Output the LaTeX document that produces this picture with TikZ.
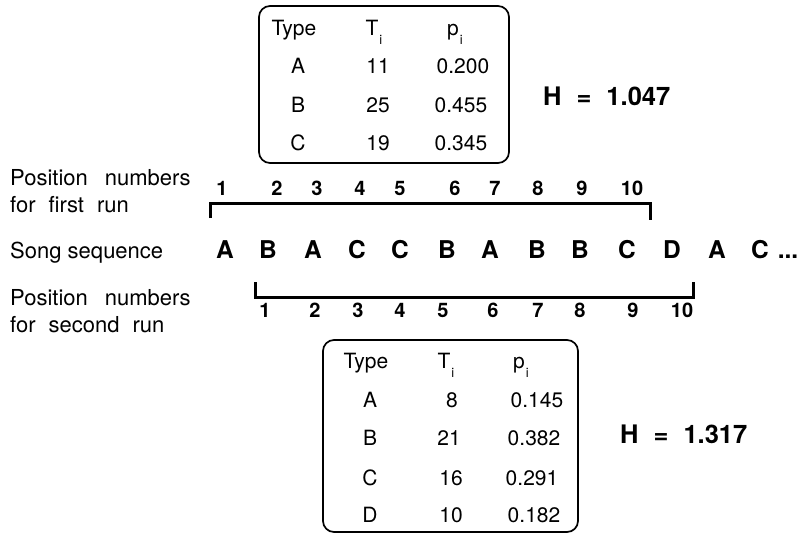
\documentclass[tikz,border=0pt]{standalone}
\usepackage{fontspec}
\setmainfont{TeX Gyre Heros}
\newcommand{\idx}[1]{\kern1pt\raisebox{-9pt}{\fontsize{13}{13}\selectfont #1}}
\begin{document}
\begin{tikzpicture}[x=1pt,y=-1pt,
  tab/.style={anchor=base, inner sep=0pt, font=\fontsize{21}{25}\selectfont},
  lab/.style={anchor=base west, inner sep=0pt, font=\fontsize{22}{26}\selectfont},
  seq/.style={anchor=base, inner sep=0pt, font=\fontsize{24.5}{28}\selectfont\bfseries},
  num/.style={anchor=base, inner sep=0pt, font=\fontsize{20}{24}\selectfont\bfseries},
  hval/.style={anchor=base west, inner sep=0pt, font=\fontsize{25.5}{30}\selectfont\bfseries},
  tbox/.style={draw, line width=1.7pt, rounded corners=11pt},
  brk/.style={line width=3pt}]
\useasboundingbox (0,0) rectangle (800,533);

% ---------- top table ----------
\draw[tbox] (259,6) rectangle (509,163);
\node[tab] (h1) at (294,35) {Type};
\node[tab] (h2) at (374,35) {T\idx{i}};
\node[tab] (h3) at (455,35) {p\idx{i}};
\node[tab] (a1) at (298,73) {A};
\node[tab] (a2) at (378,73) {11};
\node[tab] (a3) at (463,73) {0.200};
\node[tab] (b1) at (298,112) {B};
\node[tab] (b2) at (378,112) {25};
\node[tab] (b3) at (461,112) {0.455};
\node[tab] (c1) at (298,150) {C};
\node[tab] (c2) at (378,150) {19};
\node[tab] (c3) at (461,150) {0.345};
\node[hval] (H1) at (543,105) {H\hspace{15pt}=\hspace{15pt}1.047};

% ---------- left labels ----------
\node[lab] (l1) at (10,185) {Position\hspace{17pt}numbers};
\node[lab] (l2) at (10,212) {for\hspace{13pt}first\hspace{13pt}run};
\node[lab] (l3) at (10,258) {Song sequence};
\node[lab] (l4) at (10,305) {Position\hspace{17pt}numbers};
\node[lab] (l5) at (10,332) {for\hspace{13pt}second\hspace{13pt}run};

% ---------- first run numbers ----------
\foreach \n/\x in {1/222,2/277,3/317,4/360,5/400,6/455,7/495,8/538,9/582,10/632}
  \node[num] (t\n) at (\x,195) {\n};
\draw[brk] (210,218) -- (210,203) -- (650,203) -- (650,220);

% ---------- song sequence ----------
\foreach \s/\x [count=\i] in {A/225,B/268,A/313,C/357,C/400,B/447,A/490,B/537,B/580,C/627,D/672,A/717,C/760}
  \node[seq] (s\i) at (\x,258) {\s};
\node[seq] (dots) at (788,258) {...};

% ---------- second run ----------
\draw[brk] (255,282) -- (255,297) -- (693,297) -- (693,282);
\foreach \n/\x in {1/265,2/315,3/358,4/400,5/443,6/493,7/538,8/580,9/633,10/682}
  \node[num] (u\n) at (\x,317) {\n};

% ---------- bottom table ----------
\draw[tbox] (323,340) rectangle (578,532);
\node[tab] (k1) at (366,368) {Type};
\node[tab] (k2) at (446,368) {T\idx{i}};
\node[tab] (k3) at (521,368) {p\idx{i}};
\node[tab] (m1) at (370,407) {A};
\node[tab] (m2) at (452,407) {8};
\node[tab] (m3) at (537,407) {0.145};
\node[tab] (n1) at (370,445) {B};
\node[tab] (n2) at (449,445) {21};
\node[tab] (n3) at (534,445) {0.382};
\node[tab] (o1) at (370,485) {C};
\node[tab] (o2) at (451,485) {16};
\node[tab] (o3) at (532,485) {0.291};
\node[tab] (q1) at (370,522) {D};
\node[tab] (q2) at (451,522) {10};
\node[tab] (q3) at (534,522) {0.182};
\node[hval] (H2) at (620,443) {H\hspace{15pt}=\hspace{15pt}1.317};
\end{tikzpicture}
\end{document}
